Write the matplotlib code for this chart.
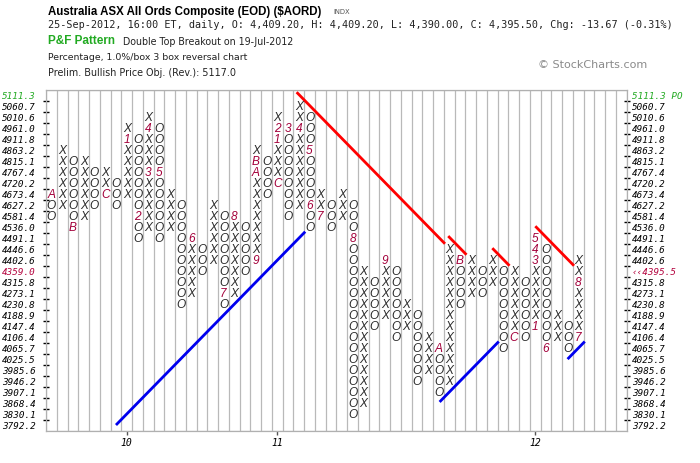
import matplotlib
matplotlib.use('Agg')
import matplotlib.pyplot as plt
import matplotlib.transforms as mtransforms
import numpy as np

# ---------------- data ----------------
price_levels = [3792.2, 3830.1, 3868.4, 3907.1, 3946.2, 3985.6, 4025.5, 4065.7,
                4106.4, 4147.4, 4188.9, 4230.8, 4273.1, 4315.8, 4359.0, 4402.6,
                4446.6, 4491.1, 4536.0, 4581.4, 4627.2, 4673.4, 4720.2, 4767.4,
                4815.1, 4863.2, 4911.8, 4961.0, 5010.6, 5060.7, 5111.3]

col_kind = "OXOXOXOXOXOXOXOXOXOXOXOXOXOXOXOXOXOXOXOXOXOXOXOXOX"
col_low = [19, 20, 18, 19, 20, 21, 20, 21, 17, 18, 17, 18, 11, 12, 14, 15, 11, 12, 14, 15,
           21, 22, 19, 20, 18, 19, 18, 19, 1, 2, 9, 10, 8, 9, 4, 5, 3, 4, 11, 12,
           12, 13, 7, 8, 8, 9, 7, 8, 7, 8]
col_high = [21, 25, 24, 24, 23, 23, 22, 27, 26, 28, 27, 21, 20, 17, 16, 20, 19, 19, 18, 25,
            24, 28, 27, 29, 28, 21, 20, 21, 20, 14, 13, 15, 14, 11, 10, 8, 7, 16, 15, 15,
            14, 15, 14, 14, 13, 17, 16, 10, 9, 15]

# month markers: (column, box row, label)
month_marks = [(1, 21, 'A'), (3, 18, 'B'), (6, 21, 'C'), (8, 26, '1'), (9, 19, '2'),
               (10, 23, '3'), (10, 27, '4'), (11, 23, '5'), (14, 17, '6'), (17, 12, '7'),
               (18, 19, '8'), (20, 15, '9'), (20, 23, 'A'), (20, 24, 'B'), (22, 22, 'C'),
               (22, 26, '1'), (22, 27, '2'), (23, 27, '3'), (24, 27, '4'), (25, 25, '5'),
               (25, 20, '6'), (26, 19, '7'), (29, 17, '8'), (32, 15, '9'), (37, 7, 'A'),
               (39, 15, 'B'), (44, 8, 'C'), (46, 9, '1'), (46, 15, '3'), (46, 16, '4'),
               (46, 17, '5'), (47, 7, '6'), (50, 8, '7'), (50, 13, '8')]

year_cols = [8, 22, 46]
year_labels = ['10', '11', '12']

# trend lines: (start column, end column, offset)
support_lines = [(7.0, 24.6, 7.0), (37.1, 42.6, 35.0), (49.0, 50.6, 43.0)]      # row = col - offset
resistance_lines = [(23.8, 37.6, 54.1), (37.9, 39.6, 55.1), (42.0, 43.6, 58.1),
                    (46.0, 49.6, 64.1)]                                          # row = offset - col

last_price = 4395.5
last_row = 14

title = "Australia ASX All Ords Composite (EOD) ($AORD)"
line2 = "25-Sep-2012, 16:00 ET, daily, O: 4,409.20, H: 4,409.20, L: 4,390.00, C: 4,395.50, Chg: -13.67 (-0.31%)"
pattern = "Double Top Breakout on 19-Jul-2012"
line4 = "Percentage, 1.0%/box 3 box reversal chart"
line5 = "Prelim. Bullish Price Obj. (Rev.): 5117.0"

# ---------------- figure ----------------
W, H = 700, 464
fig = plt.figure(figsize=(W / 100, H / 100), dpi=100)
fig.patch.set_facecolor('white')
renderer = fig.canvas.get_renderer()

ax_l, ax_r, ax_t, ax_b = 46.1, 626.7, 91.0, 431.5
ax = fig.add_axes([ax_l / W, 1 - ax_b / H, (ax_r - ax_l) / W, (ax_b - ax_t) / H])
ncols_total = 54
nrows = len(price_levels)
ax.set_xlim(0.5, ncols_total + 0.5)
ax.set_ylim(-0.5, nrows - 0.5)

ax.set_xticks(np.arange(0.5, ncols_total + 0.6, 1), minor=True)
ax.set_yticks(np.arange(-0.5, nrows - 0.4, 1), minor=True)
ax.grid(which='minor', color='#b9b9b9', linewidth=0.9)
ax.tick_params(which='minor', length=0)
for s in ax.spines.values():
    s.set_color('#b0b0b0')
    s.set_linewidth(0.9)
ax.set_axisbelow(True)

ax.set_yticks(np.arange(0.5, nrows - 1, 1))
ax.tick_params(axis='y', which='major', direction='inout', length=4, width=1,
               color='black', left=True, right=True, labelleft=False, labelright=False)
ax.set_xticks(year_cols)
ax.set_xticklabels(year_labels, family='DejaVu Sans Mono', style='italic', fontsize=7)
ax.tick_params(axis='x', which='major', direction='out', length=3, width=1,
               color='#555555', pad=2)

# ---------------- boxes ----------------
mark_lookup = {(c, r): m for c, r, m in month_marks}
box_font = dict(family='Liberation Sans', style='italic', fontsize=8.6, ha='center', va='center')
for i, kind in enumerate(col_kind):
    c = i + 1
    for r in range(col_low[i], col_high[i] + 1):
        if (c, r) in mark_lookup:
            ax.text(c, r, mark_lookup[(c, r)], color='#a3003a', **box_font)
        else:
            ax.text(c, r, kind, color='#2a2a2a', **box_font)

# ---------------- trend lines ----------------
for c0, c1, k in support_lines:
    ax.plot([c0, c1], [c0 - k, c1 - k], color='#0000ee', linewidth=2.0, solid_capstyle='butt')
for c0, c1, k in resistance_lines:
    ax.plot([c0, c1], [k - c0, k - c1], color='#ff0000', linewidth=2.0, solid_capstyle='butt')

# ---------------- price labels ----------------
lab_font = dict(family='DejaVu Sans Mono', style='italic', fontsize=6.7, va='center', ha='left')
tl = mtransforms.blended_transform_factory(fig.transFigure, ax.transData)
for r, p in enumerate(price_levels):
    txt = f"{p:.1f}"
    lcol = 'black'
    rtxt, rcol = txt, 'black'
    if r == nrows - 1:
        lcol = '#22aa22'
        rtxt, rcol = txt + ' PO', '#22aa22'
    if r == last_row:
        lcol = '#b3003c'
        rtxt, rcol = '\u2039\u2039' + f"{last_price:.1f}", '#b3003c'
    ax.text(2 / W, r, txt, color=lcol, transform=tl, **lab_font)
    ax.text(632 / W, r, rtxt, color=rcol, transform=tl, **lab_font)

# ---------------- header ----------------
def fit_text(x_px, y_px, s, width_px, **kw):
    t = fig.text(x_px / W, 1 - y_px / H, s, va='center', ha='left', **kw)
    w = t.get_window_extent(renderer).width
    t.set_fontsize(t.get_fontsize() * width_px / w)
    return t

fit_text(48, 11.5, title, 275, family='Liberation Sans', weight='bold', fontsize=9, color='black')
fit_text(333, 12.5, "INDX", 17, family='DejaVu Sans', fontsize=6, color='#555555')
fit_text(48, 25.5, line2, 622, family='DejaVu Sans Mono', fontsize=7, color='#222222')
fit_text(48, 41, "P&F Pattern", 67, family='Liberation Sans', weight='bold', fontsize=9, color='#22aa22')
fit_text(123, 42, pattern, 172, family='DejaVu Sans', fontsize=7, color='#222222')
fit_text(48, 57.5, line4, 200, family='DejaVu Sans', fontsize=7, color='#222222')
fit_text(48, 72.5, line5, 189, family='DejaVu Sans', fontsize=7, color='#222222')
fit_text(538, 65, "\u00a9 StockCharts.com", 109, family='DejaVu Sans', fontsize=8, color='#8a8a8a')

fig.savefig('out.png', dpi=100)
